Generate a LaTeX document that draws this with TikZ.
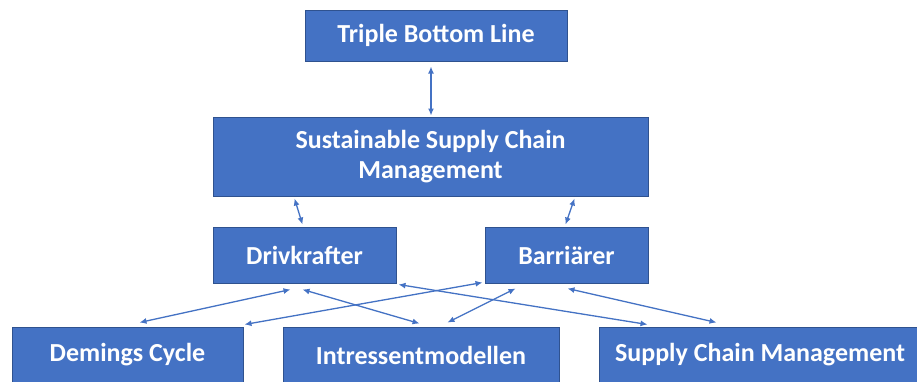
\documentclass[tikz,border=0pt]{standalone}
\usepackage{fontspec}
\setmainfont{Carlito}
\usetikzlibrary{arrows.meta,calc}
\definecolor{boxfill}{HTML}{4472C4}
\definecolor{boxline}{HTML}{2F528F}
\tikzset{
  box/.style={draw=boxline, line width=1pt, fill=boxfill, text=white,
    font=\fontsize{26}{30}\selectfont\bfseries, align=center,
    inner sep=0pt, minimum height=56pt},
  link/.style={draw=boxfill, line width=1.3pt,
    {Latex[length=7pt,width=6pt]}-{Latex[length=7pt,width=6pt]}}
}
\begin{document}
\begin{tikzpicture}[x=1pt,y=-1pt]
\useasboundingbox (0,0) rectangle (917,381);
\clip (0,0) rectangle (917,381);
\fill[white] (0,0) rectangle (917,381);
% boxes
\node[box, minimum width=262pt, minimum height=51pt] (tbl) at (436,35.5) {Triple Bottom Line};
\node[box, minimum width=435pt, minimum height=79pt] (sscm) at (430.5,156.5) {Sustainable Supply Chain\\Management};
\node[box, minimum width=183pt] (drv) at (304.5,255) {Drivkrafter};
\node[box, minimum width=163pt] (bar) at (566.5,255) {Barriärer};
\node[box, minimum width=231pt] (dem) at (127.5,355) {Demings Cycle};
\node[box, minimum width=276pt] (int) at (421,355) {Intressentmodellen};
\node[box, minimum width=322pt] (scm) at (760,355) {Supply Chain Management};
% connectors
\draw[link] ($(tbl.south)+(-5,5)$) -- ($(sscm.north)+(0.5,-1)$);
\draw[link] ($(sscm.south west)+(82,2)$) -- ($(drv.north west)+(90,-2)$);
\draw[link] ($(sscm.south east)+(-74,2)$) -- ($(bar.north east)+(-83,-2)$);
\draw[link] ($(drv.south west)+(78,6)$) -- ($(dem.north west)+(128,-4)$);
\draw[link] ($(drv.south west)+(90,6)$) -- ($(int.north west)+(137,-3)$);
\draw[link] ($(bar.south west)+(-2,-1)$) -- ($(dem.north east)+(1,-2)$);
\draw[link] ($(bar.south west)+(31,5)$) -- ($(int.north west)+(165,-4)$);
\draw[link] ($(drv.south east)+(2,1)$) -- ($(scm.north west)+(49,-2)$);
\draw[link] ($(bar.south west)+(83,5)$) -- ($(scm.north west)+(118,-4)$);
\end{tikzpicture}
\end{document}
